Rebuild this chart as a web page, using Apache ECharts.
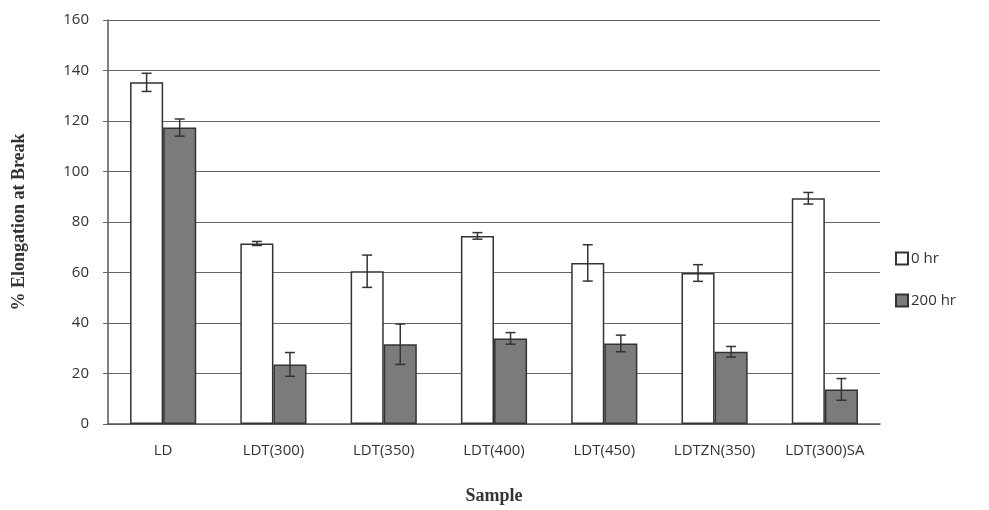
<!DOCTYPE html>
<html><head><meta charset="utf-8">
<script src="https://cdn.jsdelivr.net/npm/echarts@6/dist/echarts.min.js"></script>
<style>html,body{margin:0;padding:0;background:#fff}#c{width:989px;height:510px}</style>
</head><body><div id="c"></div>
<script>
const categories = ['LD','LDT(300)','LDT(350)','LDT(400)','LDT(450)','LDTZN(350)','LDT(300)SA'];
const hr0 = [135.3, 71.5, 60.5, 74.5, 63.8, 59.8, 89.4];
const hr0Err = [3.6, 0.8, 6.4, 1.3, 7.2, 3.3, 2.3];
const hr200 = [117.4, 23.6, 31.6, 33.9, 31.9, 28.6, 13.7];
const hr200Err = [3.4, 4.7, 8.0, 2.3, 3.3, 2.1, 4.3];
const seriesNames = ['0 hr','200 hr'];

const chart = echarts.init(document.getElementById('c'));
function errItem(offsetSign, vals, errs){
  return function(params, api){
    const i = api.value(0);
    const v = vals[i], e = errs[i];
    const band = api.size([1,0])[0];
    const bw = band*0.6/2;
    const cx = api.coord([i, 0])[0] + offsetSign*bw/2;
    const top = api.coord([i, v+e])[1];
    const bot = api.coord([i, v-e])[1];
    const hw = 5;
    const st = {stroke:'#333', lineWidth:1.5};
    return {type:'group', children:[
      {type:'line', shape:{x1:cx,y1:top,x2:cx,y2:bot}, style:st},
      {type:'line', shape:{x1:cx-hw,y1:top,x2:cx+hw,y2:top}, style:st},
      {type:'line', shape:{x1:cx-hw,y1:bot,x2:cx+hw,y2:bot}, style:st}
    ]};
  };
}
const idx = categories.map((c,i)=>[i]);
chart.setOption({
  animation:false,
  backgroundColor:'#fff',
  grid:{left:108,right:109,top:20,bottom:86},
  legend:{orient:'vertical',left:890,top:246,itemWidth:12,itemHeight:12,itemGap:27,icon:'rect',
    textStyle:{fontFamily:'Open Sans',fontSize:15,color:'#333',padding:[0,0,0,-2]},
    data:seriesNames},
  xAxis:{type:'category',data:categories,
    axisLine:{lineStyle:{color:'#555',width:1.5}},axisTick:{show:false},
    axisLabel:{fontFamily:'Open Sans',fontSize:15,color:'#333',margin:19},
    name:'Sample',nameLocation:'middle',nameGap:63,
    nameTextStyle:{fontFamily:'Liberation Serif',fontWeight:'bold',fontSize:18,color:'#333'}},
  yAxis:{type:'value',min:0,max:160,interval:20,
    axisLine:{show:true,lineStyle:{color:'#555',width:1.5}},
    axisTick:{show:true,length:5,lineStyle:{color:'#666'}},
    splitLine:{lineStyle:{color:'#666',width:1.2}},
    axisLabel:{fontFamily:'Open Sans',fontSize:15,color:'#333',margin:19},
    name:'% Elongation at Break',nameLocation:'middle',nameGap:80,
    nameTextStyle:{fontFamily:'Liberation Serif',fontWeight:'bold',fontSize:18,color:'#333'}},
  series:[
    {name:seriesNames[0],type:'bar',data:hr0,barGap:'0%',barCategoryGap:'40%',
      itemStyle:{color:'#fff',borderColor:'#333',borderWidth:1.5}},
    {name:seriesNames[1],type:'bar',data:hr200,
      itemStyle:{color:'#7b7b7b',borderColor:'#333',borderWidth:1.5}},
    {type:'custom',data:idx,renderItem:errItem(-1,hr0,hr0Err),z:5,silent:true},
    {type:'custom',data:idx,renderItem:errItem(1,hr200,hr200Err),z:5,silent:true}
  ]
});
</script></body></html>
